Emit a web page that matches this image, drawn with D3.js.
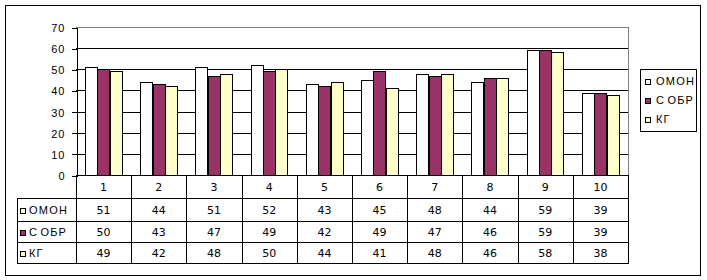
<!DOCTYPE html>
<html><head><meta charset="utf-8">
<script src="https://cdn.jsdelivr.net/npm/d3@7"></script>
<style>body{margin:0;background:#fff}svg{display:block}</style>
</head><body>
<script>
const categories = ["1","2","3","4","5","6","7","8","9","10"];
const seriesNames = ["ОМОН","СОБР","КГ"];
const omon = [51,44,51,52,43,45,48,44,59,39];
const sobr = [50,43,47,49,42,49,47,46,59,39];
const kg   = [49,42,48,50,44,41,48,46,58,38];
const yTicks = [0,10,20,30,40,50,60,70];
const seriesValues = [omon, sobr, kg];
const barColors = ["#ffffff","#993366","#ffffcc"];
const tableSwatchColors = ["#ffffcc","#993366","#ffffcc"];

const W = 707, H = 280;
const svg = d3.select("body").append("svg").attr("width", W).attr("height", H)
  .attr("shape-rendering","crispEdges");

svg.append("rect").attr("x",5.5).attr("y",5.5).attr("width",695).attr("height",269.5)
  .attr("fill","#fff").attr("stroke","#000");

const x0 = 76, x1 = 628, yTop = 27, yZero = 175;
const x = d3.scaleBand().domain(categories).range([x0, x1]).paddingInner(0).paddingOuter(0);
const xs = d3.scaleBand().domain(d3.range(3)).range([0, x.bandwidth()]).paddingInner(0).paddingOuter(0.725);
const y = d3.scaleLinear().domain([0,70]).range([yZero, yTop]);

const sansA = "'Liberation Sans', Arial, sans-serif";
const sansD = "'DejaVu Sans', Verdana, sans-serif";

svg.append("g").selectAll("line").data(yTicks.filter(t => t > 0 && t < 70)).join("line")
  .attr("x1", x0).attr("x2", x1)
  .attr("y1", d => Math.round(y(d)) + 0.5).attr("y2", d => Math.round(y(d)) + 0.5)
  .attr("stroke","#000");
svg.append("path").attr("d", `M${x0},${Math.round(y(70))+0.5}H${x1+0.5}V${yZero}`)
  .attr("fill","none").attr("stroke","#808080");

const g = svg.append("g");
seriesValues.forEach((vals, si) => {
  g.append("g").selectAll("rect").data(vals).join("rect")
    .attr("x", (d,i) => Math.round(x(categories[i]) + xs(si)) + 0.5)
    .attr("width", Math.round(xs.bandwidth()))
    .attr("y", d => Math.round(y(d)) + 0.5)
    .attr("height", d => Math.round(y(0)) - Math.round(y(d)))
    .attr("fill", barColors[si]).attr("stroke","#000");
});

const yAxis = d3.axisLeft(y).tickValues(yTicks).tickSize(5).tickPadding(6).tickFormat(d3.format("d"));
const ya = svg.append("g").attr("transform", `translate(${x0 + 0.5},0.5)`).call(yAxis);
ya.select(".domain").attr("stroke","#000");
ya.selectAll(".tick line").attr("stroke","#000");
ya.selectAll(".tick text").attr("font-family", sansA).attr("font-size", 11)
  .attr("letter-spacing", "1px").attr("fill","#000").attr("dy","0.36em");

svg.append("line").attr("x1", x0).attr("x2", x1 + 1)
  .attr("y1", yZero + 0.5).attr("y2", yZero + 0.5).attr("stroke","#000");

const rowLines = [yZero, 198, 221, 242, 263];
const tableLeft = 17;
svg.append("g").selectAll("line").data(rowLines.slice(1)).join("line")
  .attr("x1", tableLeft).attr("x2", x1 + 1)
  .attr("y1", d => d + 0.5).attr("y2", d => d + 0.5).attr("stroke","#000");
const vx = categories.map(c => Math.round(x(c))).concat([x1]);
svg.append("g").selectAll("line").data(vx).join("line")
  .attr("x1", d => d + 0.5).attr("x2", d => d + 0.5)
  .attr("y1", yZero).attr("y2", 263.5).attr("stroke","#000");
svg.append("line").attr("x1", tableLeft + 0.5).attr("x2", tableLeft + 0.5)
  .attr("y1", 198).attr("y2", 263.5).attr("stroke","#000");

svg.append("g").selectAll("text").data(categories).join("text")
  .attr("x", d => x(d) + x.bandwidth()/2).attr("y", 190.5)
  .attr("text-anchor","middle").attr("font-family", sansD).attr("font-size", 11)
  .text(d => d);

function legendText(sel, name) {
  // first glyph followed by a small gap, as in the reference rendering
  sel.append("tspan").text(name.charAt(0));
  sel.append("tspan").attr("dx", name === "СОБР" ? 2.5 : 0).text(name.slice(1));
}

seriesValues.forEach((vals, si) => {
  const cy = (rowLines[si+1] + rowLines[si+2]) / 2 + 4;
  svg.append("g").selectAll("text").data(vals).join("text")
    .attr("x", (d,i) => x(categories[i]) + x.bandwidth()/2).attr("y", cy)
    .attr("text-anchor","middle").attr("font-family", sansD).attr("font-size", 11)
    .text(d => d);
  svg.append("rect").attr("x", 20.5).attr("y", Math.round(cy - 6) + 0.5)
    .attr("width", 5).attr("height", 5)
    .attr("fill", tableSwatchColors[si]).attr("stroke","#000");
  const t = svg.append("text").attr("x", 29).attr("y", cy)
    .attr("font-family", sansA).attr("font-size", 11).attr("letter-spacing","1.2px");
  legendText(t, seriesNames[si]);
});

svg.append("rect").attr("x", 640.5).attr("y", 69.5).attr("width", 56).attr("height", 62)
  .attr("fill","#fff").attr("stroke","#000");
seriesNames.forEach((n, si) => {
  const by = 84.5 + si * 19;
  svg.append("rect").attr("x", 645.5).attr("y", Math.round(by - 6) + 0.5)
    .attr("width", 5).attr("height", 5)
    .attr("fill", barColors[si]).attr("stroke","#000");
  const t = svg.append("text").attr("x", 656).attr("y", by)
    .attr("font-family", sansA).attr("font-size", 11).attr("letter-spacing","1.2px");
  legendText(t, n);
});
</script>
</body></html>
